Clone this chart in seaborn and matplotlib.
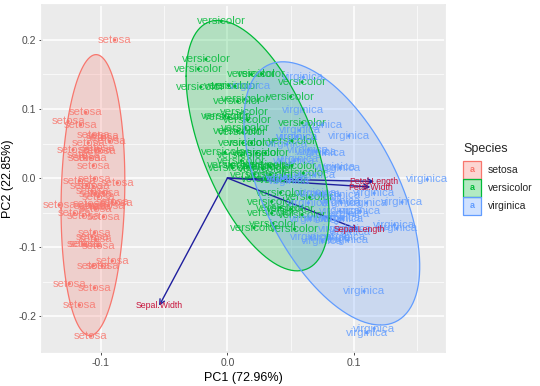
import numpy as np
import pandas as pd
import matplotlib
matplotlib.use("Agg")
import matplotlib.pyplot as plt
from matplotlib.patches import Rectangle
import seaborn as sns

# PCA scores (left singular vectors) of the iris data, x1000
pc1_scores = [-108, -99, -113, -110, -114, -99, -117, -107, -112, -104, -104, -111, -106, -126, -105, -108, -106, -105, -91, -112,
              -91, -105, -133, -87, -106, -93, -98, -104, -102, -108, -102, -88, -125, -117, -101, -106, -98, -121, -116, -104,
              -109, -89, -122, -94, -102, -99, -114, -114, -107, -105,
              53, 35, 59, 19, 51, 19, 36, -23, 44, 1, -5, 21, 27, 34, -2, 42, 17, 8, 59, 8, 35, 23, 59, 30, 34, 42, 60, 65, 32, -2,
              6, 1, 12, 51, 11, 21, 50, 50, 3, 14, 13, 30, 16, -17, 14, 4, 11, 28, -21, 12,
              88, 55, 105, 69, 89, 132, 18, 110, 96, 108, 65, 77, 90, 60, 70, 76, 70, 116, 158, 60, 97, 47, 138, 64, 81, 93, 56, 49,
              85, 89, 116, 110, 89, 53, 57, 134, 75, 64, 44, 89, 96, 91, 55, 98, 95, 89, 75, 73, 66, 46]
pc2_scores = [-41, 58, 29, 51, -55, -127, -4, -19, 95, 40, -89, -11, 62, 82, -159, -229, -127, -42, -120, -96, -35, -79, -39, -7,
              -12, 53, -21, -45, -27, 29, 43, -36, -153, -184, 39, 18, -56, -51, 77, -23, -38, 200, 41, -40, -98, 61, -96, 33, -85, -1,
              -74, -51, -53, 150, 18, 51, -66, 158, -3, 88, 227, 5, 151, 16, 37, -43, 17, 68, 139, 111, -34, 36, 80, 36, 5, -21, 7,
              -28, 19, 90, 133, 134, 66, 54, 25, -72, -45, 118, 19, 114, 96, -2, 84, 172, 73, 15, 33, 13, 132, 51,
              -74, 60, -48, 4, -25, -68, 133, -36, 61, -164, -59, 36, -36, 99, 38, -58, -22, -218, -2, 146, -78, 49, -35, 41, -87,
              -86, 27, -5, 16, -48, -22, -224, 15, 25, 69, -73, -91, -36, -1, -58, -52, -59, 60, -74, -90, -33, 77, -23, -86, 2]
species_names = ["setosa", "versicolor", "virginica"]
species_counts = [50, 50, 50]

# variable loadings (arrow tips)
var_names = ["Sepal.Length", "Sepal.Width", "Petal.Length", "Petal.Width"]
var_x = [0.104, -0.054, 0.116, 0.113]
var_y = [-0.075, -0.185, -0.005, -0.013]

colors = {"setosa": "#F8766D", "versicolor": "#00BA38", "virginica": "#619CFF"}

df = pd.DataFrame({
    "PC1": np.array(pc1_scores) / 1000,
    "PC2": np.array(pc2_scores) / 1000,
    "Species": np.repeat(species_names, species_counts),
})

sns.set_theme(style="darkgrid", rc={
    "axes.facecolor": "#EBEBEB",
    "grid.color": "white",
    "axes.edgecolor": "#EBEBEB",
    "xtick.bottom": True, "ytick.left": True,
    "xtick.color": "#333333", "ytick.color": "#333333",
    "xtick.major.size": 2.5, "ytick.major.size": 2.5,
    "xtick.major.width": 0.6, "ytick.major.width": 0.6,
    "xtick.major.pad": 1.5, "ytick.major.pad": 1.5,
})
plt.rcParams["font.family"] = ["Liberation Sans", "DejaVu Sans"]

fig = plt.figure(figsize=(5.4, 3.86), dpi=100)
ax = fig.add_axes([0.0778, 0.0881, 0.7463, 0.8990])

# group ellipses (about a 95% level)
theta = np.linspace(-np.pi, np.pi, 120)
circle = np.column_stack([np.cos(theta), np.sin(theta)])
ed = 2.55
ellipses = {}
for sp in species_names:
    g = df[df.Species == sp][["PC1", "PC2"]].to_numpy()
    L = np.linalg.cholesky(np.cov(g.T)).T
    ellipses[sp] = circle @ L * ed + g.mean(0)
    ax.fill(ellipses[sp][:, 0], ellipses[sp][:, 1], color=colors[sp], alpha=0.24, lw=0, zorder=1)

# arrows
for vx, vy in zip(var_x, var_y):
    ax.annotate("", xy=(vx, vy), xytext=(0, 0),
                arrowprops=dict(arrowstyle="->", color="#1f1f9e", lw=1.0,
                                shrinkA=0, shrinkB=0, mutation_scale=9), zorder=3)

# point labels
for x, y, sp in zip(df.PC1, df.PC2, df.Species):
    ax.text(x, y, sp, color=colors[sp], alpha=0.85, fontsize=8.2,
            ha="center", va="center", zorder=4)
sns.scatterplot(data=df, x="PC1", y="PC2", hue="Species", palette=colors,
                s=5, linewidth=0, legend=False, ax=ax, zorder=5)

for sp in species_names:
    ax.plot(ellipses[sp][:, 0], ellipses[sp][:, 1], color=colors[sp], lw=0.9, zorder=6)

for name, vx, vy in zip(var_names, var_x, var_y):
    ax.text(vx, vy, name, color="#c8143c", fontsize=6.3, ha="center", va="center", zorder=7)

ax.set_xlim(-0.1466, 0.172)
ax.set_ylim(-0.252, 0.2507)
ax.set_xticks([-0.1, 0.0, 0.1])
ax.set_xticklabels(["-0.1", "0.0", "0.1"])
ax.set_yticks([-0.2, -0.1, 0.0, 0.1, 0.2])
ax.set_yticklabels(["-0.2", "-0.1", "0.0", "0.1", "0.2"])
ax.set_xticks([-0.05, 0.05, 0.15], minor=True)
ax.set_yticks([-0.15, -0.05, 0.05, 0.15], minor=True)
ax.grid(which="major", color="white", lw=1.1)
ax.grid(which="minor", color="white", lw=0.5)
ax.tick_params(which="minor", length=0)
ax.tick_params(labelsize=7.5, labelcolor="#4D4D4D")
ax.set_xlabel("PC1 (72.96%)", fontsize=9, color="black", labelpad=3)
ax.set_ylabel("PC2 (22.85%)", fontsize=9, color="black", labelpad=3)

# legend
fig.text(463 / 540, 1 - 149 / 386, "Species", fontsize=9, ha="left", va="center")
for i, sp in enumerate(species_names):
    top = 161 + 18 * i
    fig.patches.append(Rectangle((463 / 540, 1 - (top + 18) / 386), 18 / 540, 18 / 386,
                                 transform=fig.transFigure, facecolor=colors[sp], alpha=0.3,
                                 edgecolor="none"))
    fig.patches.append(Rectangle((463 / 540, 1 - (top + 18) / 386), 18 / 540, 18 / 386,
                                 transform=fig.transFigure, facecolor="none",
                                 edgecolor=colors[sp], lw=0.9))
    fig.text(472 / 540, 1 - (top + 9) / 386, "a", color=colors[sp], fontsize=6.5,
             ha="center", va="center", fontweight="bold")
    fig.text(488 / 540, 1 - (top + 9) / 386, sp, fontsize=7.5, ha="left", va="center")

fig.savefig("out.png", dpi=100)
